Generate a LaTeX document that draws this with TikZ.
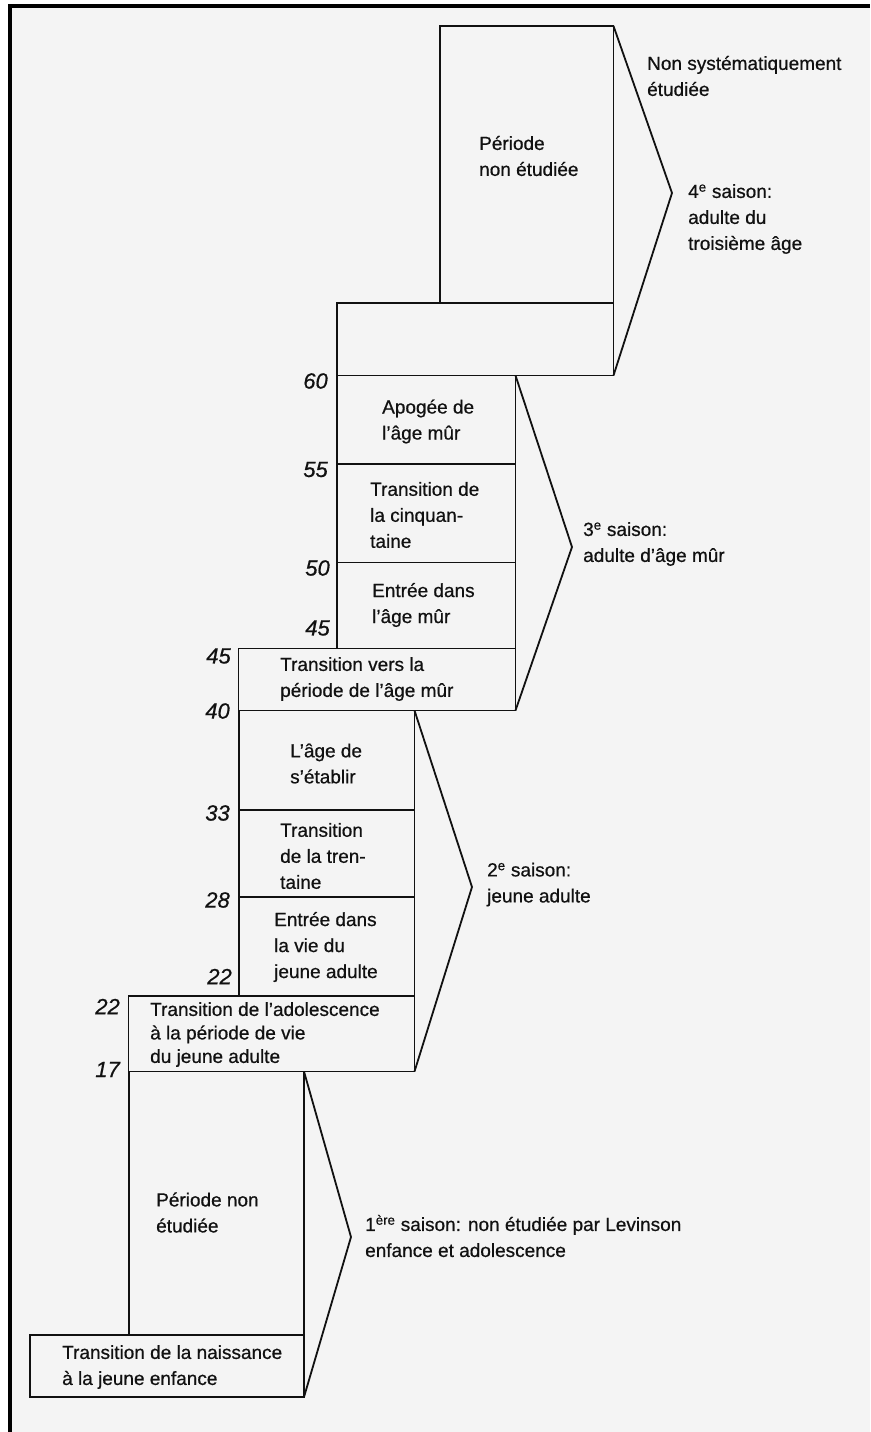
\documentclass[tikz,border=0pt]{standalone}
\usepackage{fontspec}
\setmainfont{Liberation Sans}[FakeBold=0.6]
\definecolor{paper}{HTML}{F4F4F4}
\definecolor{ink}{HTML}{111111}
\begin{document}
\begin{tikzpicture}[x=1pt,y=-1pt,
  box/.style={draw=ink, line width=1.9pt, inner sep=0pt, outer sep=0pt, anchor=north west},
  txt/.style={anchor=west, align=left, inner sep=0pt, text=ink, font=\fontsize{19}{26}\selectfont},
  age/.style={anchor=east, inner sep=0pt, text=ink, font=\fontsize{22}{24}\selectfont\itshape},
  brace/.style={draw=ink, line width=1.8pt, line join=miter}]
\useasboundingbox (0,0) rectangle (870,1432);
% paper and frame
\fill[white] (0,0) rectangle (870,1432);
\fill[paper] (12,7.5) rectangle (870,1432);
\fill[black] (8,4) rectangle (870,7.5);
\fill[black] (8,4) rectangle (12,1432);

% boxes
\node[box, minimum width=173.5pt, minimum height=277pt] (p4) at (440,26) {};
\node[box, minimum width=276.5pt, minimum height=72.5pt] (w4) at (337,303) {};
\node[box, minimum width=178.5pt, minimum height=88.5pt] (apo) at (337,375.5) {};
\node[box, minimum width=178.5pt, minimum height=98.5pt] (cinq) at (337,464) {};
\node[box, minimum width=178.5pt, minimum height=86pt] (ent3) at (337,562.5) {};
\node[box, minimum width=277pt, minimum height=62pt] (tr45) at (238.5,648.5) {};
\node[box, minimum width=175.5pt, minimum height=99.5pt] (etab) at (239,710.5) {};
\node[box, minimum width=175.5pt, minimum height=87pt] (tren) at (239,810) {};
\node[box, minimum width=175.5pt, minimum height=99pt] (ent2) at (239,897) {};
\node[box, minimum width=286pt, minimum height=75.5pt] (tr22) at (128.5,996) {};
\node[box, minimum width=175pt, minimum height=263.5pt] (nonet) at (129,1071.5) {};
\node[box, minimum width=274pt, minimum height=62pt] (nais) at (30,1335) {};

% brackets
\coordinate (k4) at (672,193);
\coordinate (k3) at (572,547);
\coordinate (k2) at (472,887);
\coordinate (k1) at (351,1237);
\draw[brace] (p4.north east) -- (k4) -- (w4.south east);
\draw[brace] (apo.north east) -- (k3) -- (tr45.south east);
\draw[brace] (etab.north east) -- (k2) -- (tr22.south east);
\draw[brace] (nonet.north east) -- (k1) -- (nais.south east);

% texts in boxes
\node[txt] (tp4) at (479,156) {Période\\non étudiée};
\node[txt] (tapo) at (382,421.5) {Apogée de\\l’âge mûr};
\node[txt] (tcinq) at (370,515) {Transition de\\la cinquan-\\taine};
\node[txt] (tent3) at (372,605) {Entrée dans\\l’âge mûr};
\node[txt] (ttr45) at (280,679) {Transition vers la\\période de l’âge mûr};
\node[txt] (tetab) at (290,763.5) {L’âge de\\s’établir};
\node[txt] (ttren) at (280,856) {Transition\\de la tren-\\taine};
\node[txt] (tent2) at (274,947) {Entrée dans\\la vie du\\jeune adulte};
\node[txt, font=\fontsize{19}{23.5}\selectfont] (ttr22) at (150,1034.5) {Transition de l’adolescence\\à la période de vie\\du jeune adulte};
\node[txt] (tnonet) at (156,1212.5) {Période non\\étudiée};
\node[txt] (tnais) at (62,1367) {Transition de la naissance\\à la jeune enfance};

% season labels
\node[txt] (tnon) at (647,76) {Non systématiquement\\étudiée};
\node[txt] (s4) at (688,219) {4\textsuperscript{e} saison:\\adulte du\\troisième âge};
\node[txt] (s3) at (583,544) {3\textsuperscript{e} saison:\\adulte d’âge mûr};
\node[txt] (s2) at (487,884.5) {2\textsuperscript{e} saison:\\jeune adulte};
\node[txt] (s1) at (365,1236) {1\textsuperscript{ère} saison: non étudiée par Levinson\\enfance et adolescence};

% ages
\node[age] (a60) at (328,381) {60};
\node[age] (a55) at (328,469.5) {55};
\node[age] (a50) at (330,568) {50};
\node[age] (a45a) at (330,628) {45};
\node[age] (a45b) at (231,656) {45};
\node[age] (a40) at (230,711) {40};
\node[age] (a33) at (230,813) {33};
\node[age] (a28) at (230,900) {28};
\node[age] (a22a) at (232,976.5) {22};
\node[age] (a22b) at (120,1006.5) {22};
\node[age] (a17) at (120,1069.5) {17};
\end{tikzpicture}
\end{document}
